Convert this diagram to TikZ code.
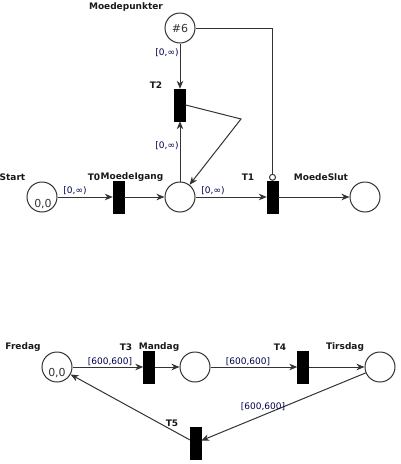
\documentclass[tikz,border=0pt]{standalone}
\usepackage{fontspec}
\setmainfont{DejaVu Sans}
\usetikzlibrary{arrows.meta}

\begin{document}
\begin{tikzpicture}[x=1pt,y=-1pt,
  place/.style={draw=black!80,line width=1pt,circle,minimum size=30pt,inner sep=0pt},
  trans/.style={fill=black,draw=black,rectangle,minimum width=11pt,minimum height=32pt,inner sep=0pt},
  namelbl/.style={font=\fontsize{9}{10}\selectfont\bfseries,text=black!90},
  arclbl/.style={font=\fontsize{9}{10}\selectfont,text=arccol},
  token/.style={font=\fontsize{11}{12}\selectfont,text=black!80},
  arc/.style={draw=black!80,line width=1pt,-{Stealth[length=8pt,width=6.5pt,inset=2.5pt]}},
  inhib/.style={draw=black!80,line width=1pt,-{Circle[open,length=7pt,width=7pt]}}]
  \colorlet{arccol}{blue!30!black}
  \useasboundingbox (0,0) rectangle (400,464);

  % top net
  \node[place] (moedepunkter) at (180,28) {};
  \node[token] (tokmp) at (180,28) {\#6};
  \node[namelbl] (lblmp) at (126,7) {Moedepunkter};

  \node[place] (start) at (42,197) {};
  \node[token] (tokstart) at (43,204) {0,0};
  \node[namelbl] (lblstart) at (12.5,177) {Start};

  \node[place] (moedeigang) at (180,197) {};
  \node[namelbl] (lblmi) at (132,177) {MoedeIgang};

  \node[place] (moedeslut) at (365,197) {};
  \node[namelbl] (lblms) at (321,177) {MoedeSlut};

  \node[trans] (t0) at (118.5,197) {};
  \node[namelbl] (lblt0) at (94,177) {T0};
  \node[trans] (t1) at (272.5,197) {};
  \node[namelbl] (lblt1) at (248,177) {T1};
  \node[trans] (t2) at (180,105) {};
  \node[namelbl] (lblt2) at (156,85) {T2};

  \draw[arc] (start) -- (t0);
  \node[arclbl] (a0) at (75,191) {[0,∞)};
  \draw[arc] (t0) -- (moedeigang);
  \draw[arc] (moedeigang) -- (t1);
  \node[arclbl] (a1) at (213,191) {[0,∞)};
  \draw[arc] (t1) -- (moedeslut);
  \draw[arc] (moedepunkter) -- (t2);
  \node[arclbl] (a2) at (167,53) {[0,∞)};
  \draw[arc] (moedeigang) -- (t2);
  \node[arclbl] (a3) at (167,146) {[0,∞)};
  \coordinate (bend) at (241,119);
  \draw[arc] (t2.east) -- (bend) -- (moedeigang);
  \coordinate (inhcorner) at (t1 |- moedepunkter);
  \draw[inhib] (moedepunkter) -- (inhcorner) -- (t1);

  % bottom net
  \node[place] (fredag) at (57,367) {};
  \node[token] (tokfr) at (57,373) {0,0};
  \node[namelbl] (lblfr) at (23,347) {Fredag};
  \node[place] (mandag) at (195,367) {};
  \node[namelbl] (lblma) at (159,347) {Mandag};
  \node[place] (tirsdag) at (380,367) {};
  \node[namelbl] (lblti) at (345,347) {Tirsdag};

  \node[trans] (t3) at (149,367) {};
  \node[namelbl] (lblt3) at (126,347) {T3};
  \node[trans] (t4) at (303,367) {};
  \node[namelbl] (lblt4) at (280,347) {T4};
  \node[trans] (t5) at (195.5,443) {};
  \node[namelbl] (lblt5) at (172,423) {T5};

  \draw[arc] (fredag) -- (t3);
  \node[arclbl] (a4) at (110,362) {[600,600]};
  \draw[arc] (t3) -- (mandag);
  \draw[arc] (mandag) -- (t4);
  \node[arclbl] (a5) at (248,362) {[600,600]};
  \draw[arc] (t4) -- (tirsdag);
  \draw[arc] (tirsdag) -- (t5);
  \node[arclbl] (a6) at (263,407) {[600,600]};
  \draw[arc] (t5) -- (fredag);
\end{tikzpicture}
\end{document}
